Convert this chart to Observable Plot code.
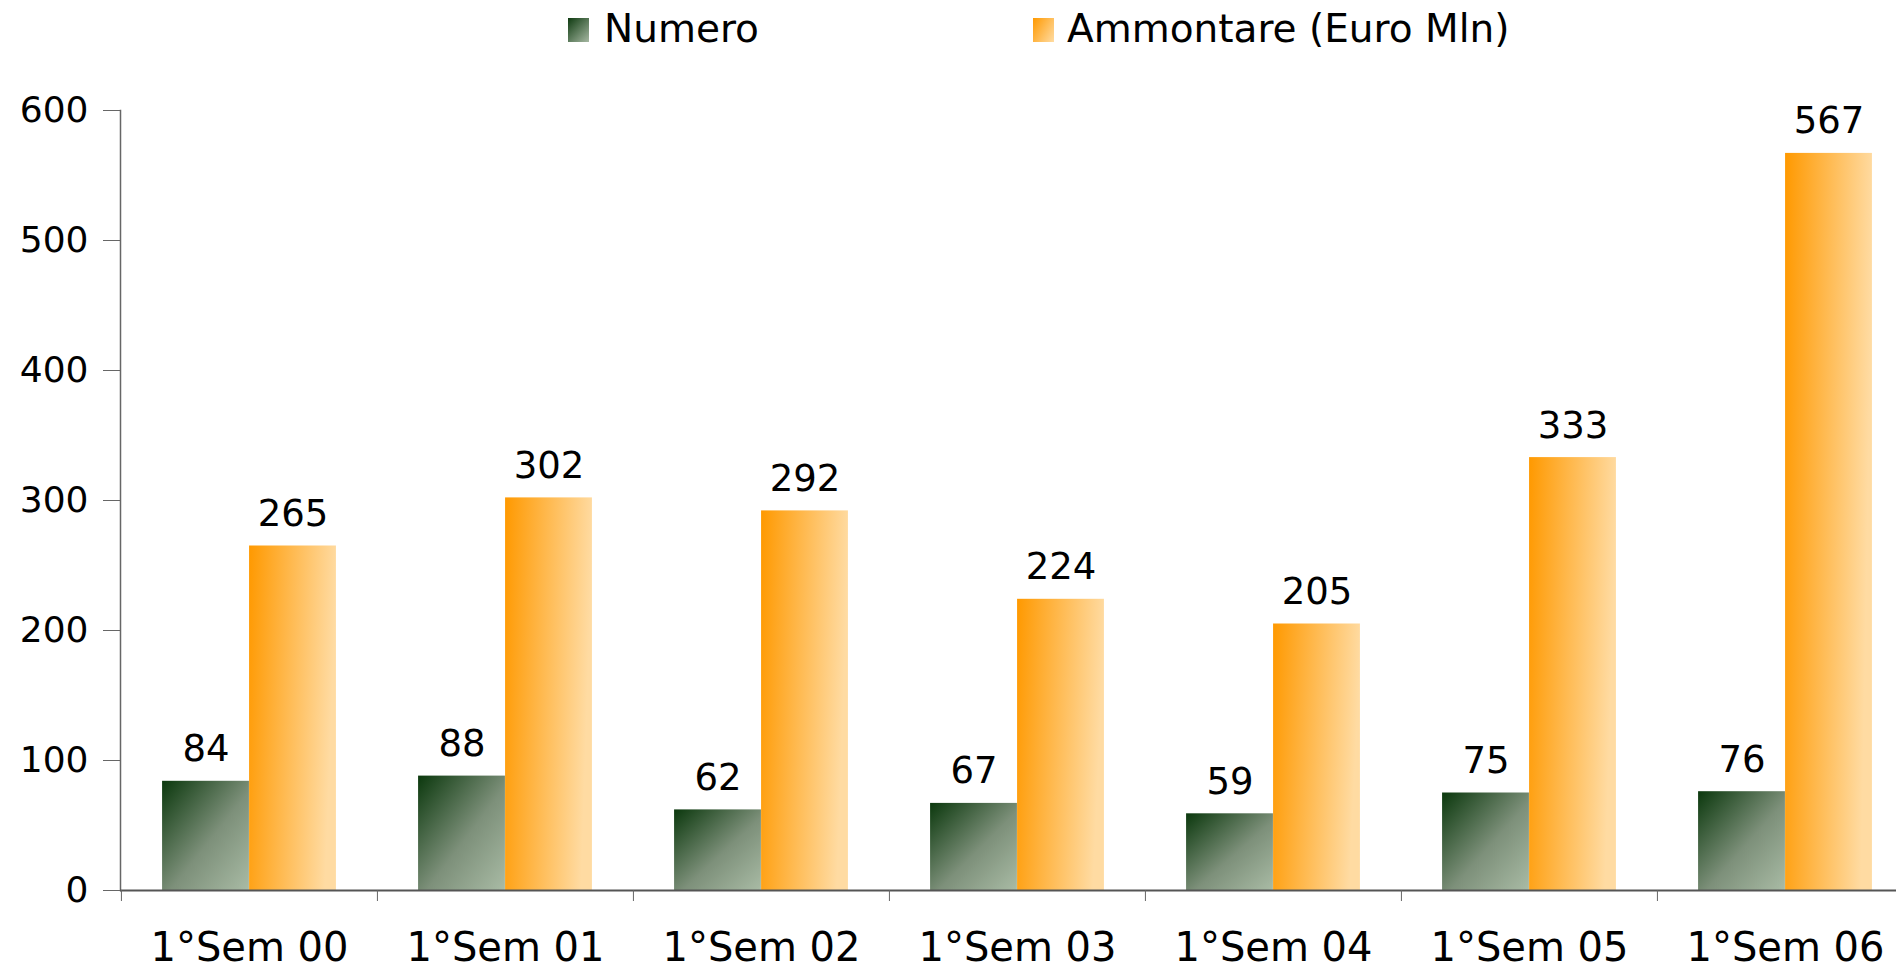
<!DOCTYPE html>
<html>
<head>
<meta charset="utf-8">
<script src="https://cdn.jsdelivr.net/npm/d3@7"></script>
<script src="https://cdn.jsdelivr.net/npm/@observablehq/plot@0.6"></script>
<style>
  html, body { margin: 0; padding: 0; background: #fff; overflow: hidden; }
  #legend { position: relative; height: 60px; width: 1896px; font-family: Verdana, "DejaVu Sans", sans-serif; font-size: 39px; color: #000; }
  .sw { position: absolute; top: 18px; width: 21px; height: 24px; }
  .lt { position: absolute; top: 7px; line-height: 44px; white-space: nowrap; }
  #chart { width: 1913px; }
  #chart svg { overflow: visible; max-width: none !important; }
</style>
</head>
<body>
<div id="legend">
  <div class="sw" style="left:568px;background:linear-gradient(135deg,#0e3a10,#a6b8a2);"></div>
  <div class="lt" style="left:604px;">Numero</div>
  <div class="sw" style="left:1033px;background:linear-gradient(120deg,#ff9900,#ffdca3);"></div>
  <div class="lt" style="left:1067px;">Ammontare (Euro Mln)</div>
</div>
<div id="chart"></div>
<script>
const categories = ["1°Sem 00", "1°Sem 01", "1°Sem 02", "1°Sem 03", "1°Sem 04", "1°Sem 05", "1°Sem 06"];
const numero = [84, 88, 62, 67, 59, 75, 76];
const ammontare = [265, 302, 292, 224, 205, 333, 567];
const yTicks = [0, 100, 200, 300, 400, 500, 600];

const dataN = categories.map((c, i) => ({cat: c, value: numero[i]}));
const dataA = categories.map((c, i) => ({cat: c, value: ammontare[i]}));

const W = 1913, H = 908, mL = 120, mR = 0, mT = 50, mB = 78;
const bw = (W - mL - mR) / categories.length;
const outer = bw * 34 / 212;
const barW = bw * 72 / 212;
const font = 'Verdana, "DejaVu Sans", sans-serif';

const defs = () => {
  const g = d3.create("svg:defs");
  const gn = g.append("linearGradient").attr("id", "gradN")
    .attr("x1", 0).attr("y1", 0).attr("x2", 1).attr("y2", 1);
  gn.append("stop").attr("offset", "0%").attr("stop-color", "#0b380d");
  gn.append("stop").attr("offset", "55%").attr("stop-color", "#7d907a");
  gn.append("stop").attr("offset", "100%").attr("stop-color", "#a9bba5");
  const ga = g.append("linearGradient").attr("id", "gradA")
    .attr("x1", 0).attr("y1", 0).attr("x2", 1).attr("y2", 0.15);
  ga.append("stop").attr("offset", "0%").attr("stop-color", "#ff9900");
  ga.append("stop").attr("offset", "100%").attr("stop-color", "#ffdba2");
  return g.node();
};

const plot = Plot.plot({
  width: W,
  height: H,
  marginLeft: mL,
  marginRight: mR,
  marginTop: mT,
  marginBottom: mB,
  style: {background: "white", fontFamily: font, color: "#000", overflow: "visible", maxWidth: "none"},
  x: {type: "band", domain: categories, padding: 0},
  y: {domain: [0, 600], range: [H - mB, mT]},
  marks: [
    defs,
    Plot.barY(dataN, {x: "cat", y: "value", fill: "url(#gradN)", insetLeft: outer, insetRight: bw - outer - barW}),
    Plot.barY(dataA, {x: "cat", y: "value", fill: "url(#gradA)", insetLeft: outer + barW, insetRight: outer}),
    Plot.text(dataN, {x: "cat", y: "value", text: d => String(d.value), dx: -barW / 2, dy: -20, lineAnchor: "bottom", fontSize: 37, fill: "#000"}),
    Plot.text(dataA, {x: "cat", y: "value", text: d => String(d.value), dx: barW / 2, dy: -20, lineAnchor: "bottom", fontSize: 37, fill: "#000"}),
    Plot.frame({anchor: "left", stroke: "#666", strokeWidth: 1.5}),
    Plot.ruleY([0], {stroke: "#555", strokeWidth: 2}),
    Plot.axisY({ticks: yTicks, tickSize: 17, tickPadding: 15, fontSize: 36, stroke: "#666", label: null, tickFormat: d => String(d)}),
    Plot.axisX({tickSize: 11, dx: -bw / 2, fill: "none", stroke: "#666", label: null}),
    Plot.axisX({tickSize: 0, tickPadding: 42, fontSize: 40, label: null})
  ]
});
document.getElementById("chart").appendChild(plot);
</script>
</body>
</html>
